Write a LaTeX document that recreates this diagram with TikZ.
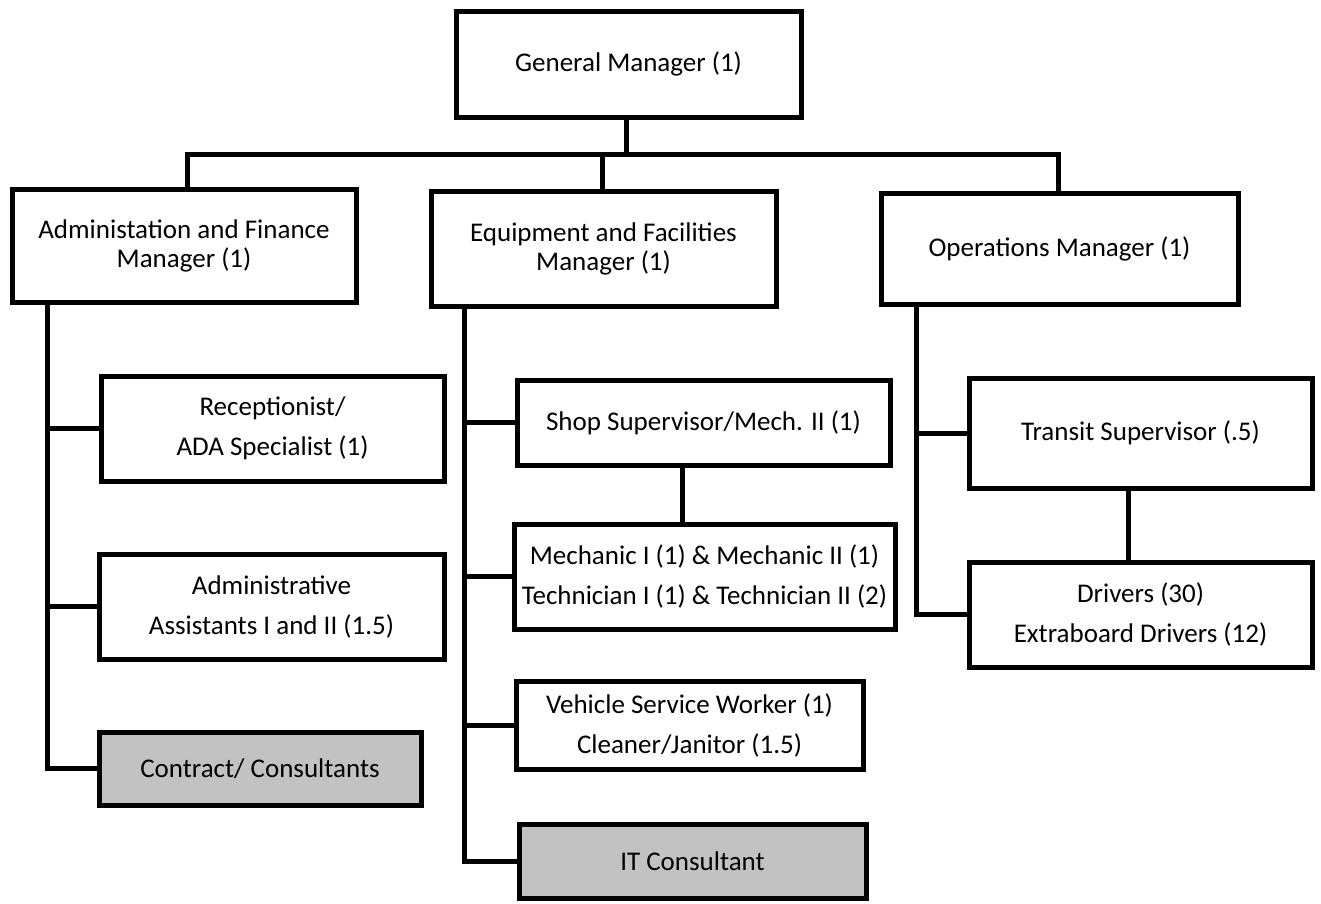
\documentclass[tikz,border=0pt]{standalone}
\usepackage{fontspec}
\setmainfont{Carlito}
\begin{document}
\begin{tikzpicture}[x=1pt,y=-1pt,
  box/.style={draw=black, line width=5pt, fill=white, inner sep=0pt, align=center,
              font=\fontsize{27pt}{40pt}\selectfont},
  headbox/.style={box, font=\fontsize{27pt}{29pt}\selectfont},
  graybox/.style={box, fill=black!24},
  conn/.style={line width=5pt, line cap=rect}]
\useasboundingbox (0,0) rectangle (1321,903);
% boxes
\node[box, minimum width=345pt, minimum height=106pt] (gm) at (628.5,64) {General Manager (1)};
\node[headbox, minimum width=344pt, minimum height=113pt] (adm) at (184,245.5) {Administation and Finance\\Manager (1)};
\node[headbox, minimum width=345pt, minimum height=115pt] (eqp) at (603.5,248.5) {Equipment and Facilities\\Manager (1)};
\node[box, minimum width=357pt, minimum height=111pt] (ops) at (1059.5,248.5) {Operations Manager (1)};
\node[box, minimum width=343pt, minimum height=105pt] (rec) at (272.5,428.5) {Receptionist/\\ADA Specialist (1)};
\node[box, minimum width=345pt, minimum height=105pt] (asst) at (271.5,606.5) {Administrative\\Assistants I and II (1.5)};
\node[graybox, minimum width=322pt, minimum height=73pt] (con) at (260,768.5) {Contract/ Consultants};
\node[box, minimum width=373pt, minimum height=85pt] (shop) at (703.5,422.5) {Shop Supervisor/Mech. II (1)};
\node[box, minimum width=381pt, minimum height=105pt] (mech) at (704.5,576.5) {Mechanic I (1) \& Mechanic II (1)\\Technician I (1) \& Technician II (2)};
\node[box, minimum width=347pt, minimum height=88pt] (veh) at (689.5,725) {Vehicle Service Worker (1)\\Cleaner/Janitor (1.5)};
\node[graybox, minimum width=347pt, minimum height=74pt] (it) at (692.5,861) {IT Consultant};
\node[box, minimum width=343pt, minimum height=110pt] (tra) at (1140.5,433) {Transit Supervisor (.5)};
\node[box, minimum width=343pt, minimum height=105pt] (drv) at (1140.5,614.5) {Drivers (30)\\Extraboard Drivers (12)};
% top-level tree
\coordinate (bar) at (626,154);
\draw[conn] (bar |- gm.south) -- (bar);
\draw[conn] (187,154) coordinate (barL) -- (1058,154) coordinate (barR);
\draw[conn] (barL) -- (barL |- adm.north);
\draw[conn] (602,154) coordinate (barM) -- (barM |- eqp.north);
\draw[conn] (barR) -- (barR |- ops.north);
% admin branch
\coordinate (av) at (47,0);
\draw[conn] (av |- adm.south) -- (av |- con.west) -- (con.west);
\draw[conn] (av |- rec.west) -- (rec.west);
\draw[conn] (av |- asst.west) -- (asst.west);
% equipment branch
\coordinate (ev) at (464,0);
\draw[conn] (ev |- eqp.south) -- (ev |- it.west) -- (it.west);
\draw[conn] (ev |- shop.west) -- (shop.west);
\draw[conn] (ev |- mech.west) -- (mech.west);
\draw[conn] (ev |- veh.west) -- (veh.west);
\coordinate (sm) at (682,0);
\draw[conn] (sm |- shop.south) -- (sm |- mech.north);
% operations branch
\coordinate (ov) at (916,0);
\draw[conn] (ov |- ops.south) -- (ov |- drv.west) -- (drv.west);
\draw[conn] (ov |- tra.west) -- (tra.west);
\coordinate (td) at (1128,0);
\draw[conn] (td |- tra.south) -- (td |- drv.north);
\end{tikzpicture}
\end{document}
